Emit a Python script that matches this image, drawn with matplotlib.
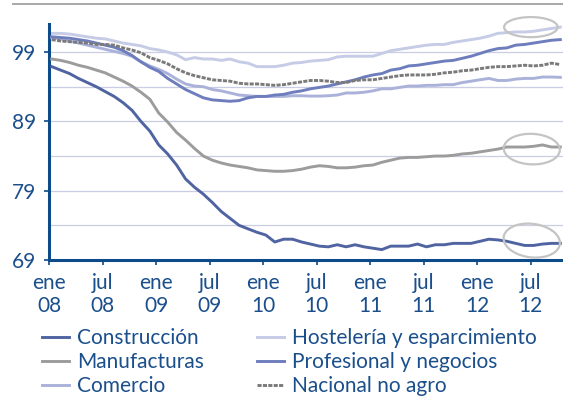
import matplotlib
matplotlib.use("Agg")
import matplotlib.pyplot as plt
from matplotlib.lines import Line2D
from matplotlib.patches import Ellipse

plt.rcParams['font.family'] = ['Lato', 'DejaVu Sans']

tick_labels = ["ene\n08", "jul\n08", "ene\n09", "jul\n09", "ene\n10",
               "jul\n10", "ene\n11", "jul\n11", "ene\n12", "jul\n12"]

construccion = [96.9, 96.4, 95.9, 95.2, 94.6, 94.0, 93.3, 92.6, 91.7, 90.6,
                89.0, 87.6, 85.6, 84.3, 82.7, 80.7, 79.5, 78.5, 77.3, 76.0,
                75.0, 74.0, 73.5, 73.0, 72.6, 71.6, 72.0, 72.0, 71.6, 71.3,
                71.0, 70.9, 71.2, 70.9, 71.2, 70.9, 70.7, 70.5, 71.0, 71.0,
                71.0, 71.3, 70.9, 71.2, 71.2, 71.4, 71.4, 71.4, 71.7, 72.0,
                71.9, 71.7, 71.4, 71.1, 71.1, 71.3, 71.4, 71.4]
manufacturas = [98.0, 97.8, 97.5, 97.1, 96.8, 96.4, 96.0, 95.4, 94.8, 94.1,
                93.2, 92.2, 90.2, 88.9, 87.4, 86.3, 85.1, 84.0, 83.4, 83.0,
                82.7, 82.5, 82.3, 82.0, 81.9, 81.8, 81.8, 81.9, 82.1, 82.4,
                82.6, 82.5, 82.3, 82.3, 82.4, 82.6, 82.7, 83.1, 83.4, 83.7,
                83.8, 83.8, 83.9, 84.0, 84.0, 84.1, 84.3, 84.4, 84.6, 84.8,
                85.0, 85.3, 85.3, 85.3, 85.4, 85.6, 85.3, 85.3]
comercio = [101.1, 100.9, 100.6, 100.3, 100.0, 99.7, 99.4, 99.1, 98.8, 98.4,
            97.6, 97.0, 96.5, 95.9, 95.1, 94.4, 94.1, 94.0, 93.6, 93.4,
            93.1, 92.8, 92.7, 92.6, 92.6, 92.6, 92.6, 92.7, 92.7, 92.65,
            92.65, 92.7, 92.8, 93.1, 93.1, 93.2, 93.4, 93.7, 93.7, 93.9,
            94.1, 94.1, 94.2, 94.2, 94.3, 94.3, 94.6, 94.8, 95.0, 95.2,
            94.9, 94.9, 95.1, 95.2, 95.2, 95.4, 95.4, 95.35]
hosteleria = [101.7, 101.7, 101.6, 101.4, 101.2, 101.0, 100.9, 100.6, 100.3, 100.1,
              99.9, 99.5, 99.3, 99.0, 98.6, 97.9, 98.2, 98.0, 98.0, 97.8,
              98.0, 97.6, 97.4, 96.9, 96.9, 96.9, 97.1, 97.4, 97.5, 97.7,
              97.8, 97.9, 98.3, 98.4, 98.4, 98.4, 98.4, 98.8, 99.2, 99.4,
              99.6, 99.8, 100.0, 100.1, 100.1, 100.4, 100.6, 100.8, 101.0, 101.3,
              101.7, 101.8, 101.9, 101.9, 102.0, 102.2, 102.4, 102.6]
profesional = [101.2, 101.1, 101.0, 100.8, 100.6, 100.3, 100.0, 99.7, 99.2, 98.5,
               97.6, 96.8, 96.2, 95.2, 94.4, 93.6, 93.0, 92.4, 92.1, 92.0,
               91.9, 92.0, 92.4, 92.6, 92.6, 92.8, 92.9, 93.2, 93.4, 93.7,
               93.9, 94.1, 94.4, 94.7, 95.0, 95.4, 95.7, 95.9, 96.4, 96.6,
               97.0, 97.1, 97.3, 97.5, 97.7, 97.8, 98.1, 98.4, 98.8, 99.2,
               99.5, 99.6, 100.0, 100.1, 100.3, 100.5, 100.7, 100.8]
nacional = [100.8, 100.6, 100.5, 100.4, 100.3, 100.1, 100.1, 100.0, 99.6, 99.3,
            98.9, 98.2, 97.8, 97.3, 96.6, 96.0, 95.6, 95.3, 95.0, 94.9,
            94.8, 94.5, 94.4, 94.4, 94.3, 94.2, 94.3, 94.5, 94.7, 94.9,
            94.9, 94.8, 94.6, 94.6, 94.9, 95.0, 95.0, 95.2, 95.4, 95.6,
            95.7, 95.7, 95.7, 95.8, 96.0, 96.1, 96.3, 96.4, 96.6, 96.8,
            96.9, 96.9, 97.0, 97.1, 97.0, 97.1, 97.4, 97.2]

# circled last months: (x center, y center, width, height, angle)
rings = [(54.0, 102.6, 6.0, 2.9, 0), (54.1, 85.0, 6.3, 4.4, -4), (54.1, 71.8, 6.4, 4.8, -14)]

txt = '#1a4f8c'
axc = '#0c4a8a'

fig = plt.figure(figsize=(5.63, 4.0), dpi=100)
ax = fig.add_axes([49 / 563, 0.35, 514 / 563, 0.59])

x = [m + 0.3 for m in range(len(construccion))]
lw = 2.1
ax.plot(x, construccion, color='#5064a2', lw=lw, label='Construcción', zorder=5)
ax.plot(x, manufacturas, color='#9c9c9c', lw=lw, label='Manufacturas', zorder=4)
ax.plot(x, comercio, color='#aab2da', lw=lw, label='Comercio', zorder=3)
ax.plot(x, hosteleria, color='#c6cbe6', lw=lw, label='Hostelería y esparcimiento', zorder=2)
ax.plot(x, profesional, color='#6e7ebd', lw=lw, label='Profesional y negocios', zorder=4)
ax.plot(x, nacional, color='#7a7a7a', lw=lw, dashes=(1.4, 0.45), label='Nacional no agro', zorder=4)

for cx, cy, w, h, a in rings:
    ax.add_patch(Ellipse((cx, cy), w, h, angle=a, fill=False, ec='#c4c4c4', lw=1.6,
                         zorder=6, clip_on=False))

ax.set_xlim(0, 57.6)
ax.set_ylim(69, 103.05)
ax.set_xticks(range(0, 55, 6))
ax.set_xticklabels(tick_labels, linespacing=1.15)
ax.set_yticks([69, 79, 89, 99])
ax.set_yticks([74, 84, 94], minor=True)
ax.grid(axis='y', which='both', color='#cacee4', lw=0.9)
ax.set_axisbelow(True)

for s in ['top', 'right']:
    ax.spines[s].set_visible(False)
for s in ['left', 'bottom']:
    ax.spines[s].set_color(axc)
    ax.spines[s].set_linewidth(2.2)
ax.tick_params(axis='both', which='major', colors=axc, labelcolor=txt, labelsize=15,
               length=3.5, width=1.2)
ax.tick_params(axis='x', pad=6)
ax.tick_params(axis='y', pad=6)
ax.tick_params(axis='y', which='minor', length=0)

fig.add_artist(Line2D([13 / 563, 1], [1 - 4 / 400, 1 - 4 / 400], color='#a8a8a8', lw=1.4))

h, l = ax.get_legend_handles_labels()
opts = dict(frameon=False, fontsize=15, handlelength=1.3, handletextpad=0.4,
            labelspacing=0.2, borderpad=0, borderaxespad=0, labelcolor=txt, loc='upper left')
fig.legend(h[:3], l[:3], bbox_to_anchor=(42 / 563, 1 - 328 / 400), **opts)
fig.legend(h[3:], l[3:], bbox_to_anchor=(257 / 563, 1 - 328 / 400), **opts)

fig.savefig('out.png', dpi=100)
